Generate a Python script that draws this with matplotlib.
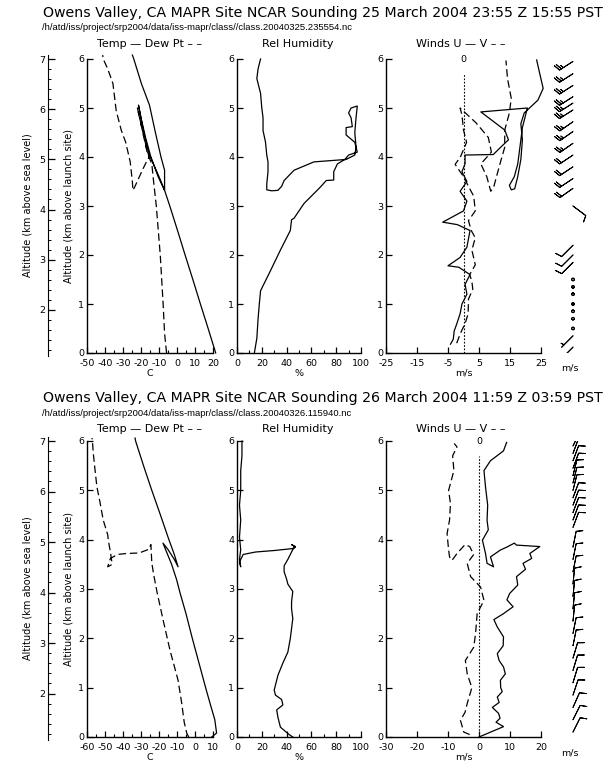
import numpy as np
import matplotlib
matplotlib.use("Agg")
import matplotlib.pyplot as plt

W, H = 612, 765
plt.rcParams["axes.unicode_minus"] = False

# ---- 25 March 2004 23:55 Z sounding ----
t1_alt = [0.0, 0.5, 1.0, 1.5, 2.0, 2.5, 3.0, 3.32, 3.6, 4.08, 4.5, 5.06, 4.8, 4.4, 4.0, 3.6, 3.32,
          3.73, 4.0, 4.5, 5.06, 5.5, 6.0, 6.08]
t1_val = [21.5, 17.3, 13.0, 8.8, 4.5, 0.3, -4.0, -6.9, -10.0, -15.8, -18.5, -21.4, -20.0, -17.5, -14.5,
          -10.5, -6.9, -6.9, -8.9, -12.0, -15.3, -19.8, -24.0, -24.8]
td1_alt = [0.0, 0.4, 1.0, 1.5, 2.0, 2.5, 3.0, 3.5, 3.86, 4.08, 4.5, 5.0, 4.6, 4.2, 4.0, 3.9, 3.75,
           3.55, 3.38, 3.32, 3.5, 3.9, 4.3, 4.55, 4.95, 5.5, 5.8, 6.0, 6.08]
td1_val = [-5.8, -6.9, -7.7, -8.5, -9.3, -10.4, -11.5, -13.0, -14.0, -16.5, -19.0, -22.0, -19.5, -17.0,
           -15.5, -17.0, -19.0, -21.5, -23.6, -24.5, -24.8, -26.0, -28.5, -31.0, -33.8, -35.6, -38.5,
           -41.0, -41.3]
rh1_alt = [0.0, 0.3, 0.7, 1.0, 1.27, 1.68, 2.1, 2.5, 2.72, 2.75, 3.05, 3.38, 3.52, 3.53, 3.7, 3.86,
           3.95, 4.04, 4.1, 4.3, 4.45, 4.6, 4.62, 4.8, 4.9, 5.0, 5.04, 4.8, 4.5, 4.2, 4.04, 3.95, 3.9,
           3.73, 3.52, 3.4, 3.32, 3.31, 3.33, 3.45, 3.7, 3.9, 4.04, 4.3, 4.54, 4.8, 5.0, 5.3, 5.6, 5.8,
           6.0]
rh1_val = [14, 16, 17, 18, 19, 27, 35, 43, 44, 46, 54, 67, 72, 78, 78, 81, 87, 90, 97, 95, 88, 88,
           93, 92, 90, 92, 97, 96, 95, 96, 95, 88, 62, 46, 38, 36, 33, 28, 24, 24, 25, 25, 24, 23, 21,
           21, 20, 19, 16, 17, 19]
u1_alt = [0.18, 0.28, 0.45, 0.59, 0.8, 1.0, 1.2, 1.4, 1.6, 1.75, 1.78, 1.95, 2.16, 2.5, 2.62, 2.67,
          2.9, 3.1, 3.3, 3.5, 3.7, 3.86, 4.04, 4.05, 4.2, 4.35, 4.55, 4.92, 5.0, 4.85, 4.6, 4.2, 3.86,
          3.6, 3.42, 3.33, 3.35, 3.6, 3.95, 4.35, 4.68, 4.9, 5.16, 5.4, 5.7, 5.98]
u1_val = [-4.2, -3.3, -3.0, -2.2, -1.1, -0.5, 1.1, 0.5, 2.1, -1.5, -5.0, -1.1, 1.1, 2.1, -2.0, -6.7,
          0.0, 1.1, -1.1, 1.1, -0.5, 0.5, 0.5, 9.6, 12.0, 14.5, 13.3, 5.6, 20.6, 20.0, 19.0, 18.2,
          17.5, 16.4, 14.8, 15.4, 16.5, 17.5, 18.5, 19.0, 18.5, 19.6, 24.0, 25.7, 24.6, 23.6]
v1_alt = [0.2, 0.4, 0.6, 0.8, 1.1, 1.3, 1.46, 1.6, 1.8, 2.1, 2.35, 2.5, 2.7, 2.9, 3.2, 3.4, 3.6,
          3.85, 4.0, 4.3, 4.55, 4.86, 5.0, 4.7, 4.4, 4.1, 3.86, 3.6, 3.3, 3.4, 3.8, 4.2, 4.55, 4.9,
          5.2, 5.6, 5.97]
v1_val = [-2.2, -1.0, 0.5, 1.5, 1.6, 3.0, 2.7, 2.0, 3.8, 2.7, 3.8, 2.5, 1.6, 3.8, 3.3, 1.6, 0.0,
          -2.7, -1.0, 1.0, 0.0, -0.5, -1.1, 4.0, 8.0, 9.0, 5.6, 7.5, 8.8, 9.8, 11.5, 13.3, 13.3, 14.8,
          15.4, 14.2, 13.7]
b1_alt = [5.95, 5.7, 5.46, 5.23, 5.1, 4.96, 4.72, 4.52, 4.28, 4.04, 3.8, 3.56, 3.36, 3.0, 2.2,
          2.0, 1.85, 1.5, 1.35, 1.2, 1.0, 0.85, 0.7, 0.5, 0.35, 0.12]
b1_u = [22, 22, 22, 22, 22, 22, 20, 20, 20, 18, 18, 18, 17, -8, 6, 6, 6, 0, 0, 0, 0, 0, 0, 0, 4, 4]
b1_v = [14, 14, 14, 14, 14, 14, 14, 14, 14, 12, 12, 12, 12, 6, 6, 6, 6, 0, 0, 0, 0, 0, 0, 0, 4, 4]

# ---- 26 March 2004 11:59 Z sounding ----
t2_alt = [0.0, 0.08, 0.35, 0.69, 1.0, 1.42, 2.0, 2.5, 2.92, 3.2, 3.5, 3.93, 3.8, 3.6, 3.45, 3.7,
          4.0, 4.5, 5.0, 5.5, 6.0, 6.06]
t2_val = [9.3, 12.0, 11.0, 8.3, 5.9, 2.8, -1.5, -5.0, -8.3, -10.3, -13.0, -17.8, -15.0, -11.5, -9.4,
          -11.5, -14.5, -19.2, -24.0, -28.6, -33.0, -33.3]
td2_alt = [0.0, 0.08, 0.3, 0.69, 1.15, 1.76, 2.37, 2.92, 3.3, 3.53, 3.9, 3.8, 3.73, 3.72, 3.7, 3.62,
           3.45, 3.5, 3.75, 3.95, 4.1, 4.4, 4.8, 5.07, 5.4, 5.75, 6.0, 6.06]
td2_val = [-3.5, -4.6, -6.0, -7.4, -9.4, -13.9, -17.7, -21.0, -23.0, -24.0, -24.5, -26.0, -31.0,
           -38.0, -43.0, -47.0, -48.5, -46.0, -47.0, -48.0, -48.5, -51.0, -53.0, -54.5, -55.5,
           -56.5, -57.0, -57.2]
rh2_alt = [0.0, 0.05, 0.2, 0.4, 0.55, 0.65, 0.76, 0.85, 0.95, 1.25, 1.5, 1.72, 2.0, 2.4, 2.6, 2.74,
           2.95, 3.1, 3.2, 3.35, 3.47, 3.6, 3.8, 3.86, 3.9, 3.85, 3.82, 3.78, 3.75, 3.7, 3.65, 3.55,
           3.45, 3.6, 3.8, 4.05, 4.4, 4.7, 5.0, 5.4, 5.7, 6.0]
rh2_val = [45, 42, 35, 33, 32, 37, 36, 31, 30, 33, 37, 41, 43, 45, 44, 44, 45, 41, 40, 38, 38, 41,
           45, 47, 44, 47, 45, 30, 15, 5, 4, 2, 3, 2, 3, 2, 3, 2, 3, 3, 4, 4]
u2_alt = [0.0, 0.21, 0.3, 0.38, 0.48, 0.6, 0.7, 0.81, 0.92, 1.0, 1.15, 1.28, 1.42, 1.55, 1.69, 1.85,
          2.03, 2.23, 2.38, 2.5, 2.64, 2.78, 2.91, 3.08, 3.25, 3.4, 3.52, 3.62, 3.72, 3.86, 3.89,
          3.93, 3.85, 3.79, 3.65, 3.45, 3.52, 3.72, 3.99, 4.2, 4.39, 4.7, 5.07, 5.4, 5.6, 5.8, 5.97]
u2_val = [0.0, 7.9, 5.5, 6.8, 6.3, 4.3, 6.5, 5.9, 7.5, 7.0, 6.9, 8.5, 7.9, 6.5, 5.9, 7.8, 7.9, 5.9,
          4.8, 7.9, 11.0, 9.0, 9.9, 12.5, 12.1, 15.0, 14.2, 17.0, 16.4, 19.6, 12.1, 11.4, 9.0, 6.9,
          3.7, 4.7, 2.6, 2.1, 1.1, 3.0, 2.6, 2.8, 2.1, 1.6, 3.7, 7.9, 8.9]
v2_alt = [0.05, 0.1, 0.34, 0.5, 0.68, 0.85, 1.0, 1.28, 1.55, 1.82, 2.1, 2.5, 2.77, 3.04, 3.25,
          3.52, 3.7, 3.86, 3.9, 3.72, 3.58, 3.65, 3.79, 4.12, 4.4, 4.73, 5.0, 5.4, 5.7, 5.88, 5.95]
v2_val = [-3.0, -4.9, -6.0, -4.5, -3.8, -3.0, -2.3, -3.8, -4.4, -1.7, -1.1, -0.6, 1.6, 0.5, -2.7,
          -3.8, -1.7, -3.0, -4.5, -7.1, -8.7, -9.5, -9.8, -10.3, -9.5, -9.2, -9.8, -8.1, -8.5, -7.1,
          -8.0]
b2_alt = [5.9, 5.75, 5.6, 5.45, 5.3, 5.15, 5.0, 4.85, 4.7, 4.55, 4.4, 4.25, 3.85, 3.6, 3.35, 3.1,
          2.85, 2.6, 2.35, 2.1, 1.85, 1.6, 1.35, 1.1, 0.85, 0.6, 0.35, 0.1]
b2_u = [-4, -3, -3, -3, -2, -2, -2, -3, -3, -3, -3, -3, -2, -2, -2, -1, -1, -1, -1, -2, -2, -3,
        -3, -3, -3, -4, -4, -4]
b2_v = [-8, -8, -8, -8, -8, -8, -8, -8, -8, -8, -8, -8, -10, -10, -10, -10, -10, -10, -10, -10,
        -10, -10, -10, -10, -9, -9, -8, -8]

titles = ["Owens Valley, CA MAPR Site NCAR Sounding 25 March 2004 23:55 Z 15:55 PST",
          "Owens Valley, CA MAPR Site NCAR Sounding 26 March 2004 11:59 Z 03:59 PST"]
paths = ["/h/atd/iss/project/srp2004/data/iss-mapr/class//class.20040325.235554.nc",
         "/h/atd/iss/project/srp2004/data/iss-mapr/class//class.20040326.115940.nc"]

FS = 6.8


def box(fig, x0, y0, x1, y1):
    """axes from pixel corners (top-left origin)"""
    return fig.add_axes([x0 / W, 1 - y1 / H, (x1 - x0) / W, (y1 - y0) / H])


def panel(ax, xlim, xmaj, xmin):
    ax.set_xlim(*xlim)
    ax.set_ylim(0, 6)
    for s in ["top", "right"]:
        ax.spines[s].set_visible(False)
    for s in ["left", "bottom"]:
        ax.spines[s].set_linewidth(1.0)
    ax.set_xticks(xmaj)
    ax.set_xticks(xmin, minor=True)
    ax.set_yticks(range(7))
    ax.tick_params(direction="in", length=4, width=0.9, labelsize=FS, pad=2)
    ax.tick_params(axis="x", pad=4)
    ax.tick_params(which="minor", direction="in", length=2, width=0.8)
    ax.patch.set_alpha(0)


fig = plt.figure(figsize=(W / 100, H / 100), dpi=100)
fig.patch.set_facecolor("white")

rows = [
    dict(dy=0, tlim=(-50, 20), tmaj=range(-50, 21, 10), tmin=range(-45, 20, 10),
         wlim=(-25, 25), wmaj=range(-25, 26, 10), wmin=[],
         t=(t1_alt, t1_val), td=(td1_alt, td1_val), rh=(rh1_alt, rh1_val),
         u=(u1_alt, u1_val), v=(v1_alt, v1_val), b=(b1_alt, b1_u, b1_v), top=59, bot=353),
    dict(dy=385, tlim=(-60, 10), tmaj=range(-60, 11, 10), tmin=range(-55, 10, 10),
         wlim=(-30, 20), wmaj=range(-30, 21, 10), wmin=[],
         t=(t2_alt, t2_val), td=(td2_alt, td2_val), rh=(rh2_alt, rh2_val),
         u=(u2_alt, u2_val), v=(v2_alt, v2_val), b=(b2_alt, b2_u, b2_v), top=441, bot=737),
]

for i, r in enumerate(rows):
    dy = r["dy"]
    top, bot = r["top"], r["bot"]

    fig.text(323 / W, 1 - (13 + dy) / H, titles[i], ha="center", va="center", fontsize=10.2)
    fig.text(42 / W, 1 - (28 + dy) / H, paths[i], ha="left", va="center", fontsize=6.8,
             family="Liberation Sans")
    fig.text(150 / W, 1 - (44 + dy) / H, "Temp \u2014 Dew Pt \u2013 \u2013", ha="center",
             va="center", fontsize=8)
    fig.text(298 / W, 1 - (44 + dy) / H, "Rel Humidity", ha="center", va="center", fontsize=8)
    fig.text(461 / W, 1 - (44 + dy) / H, "Winds U \u2014 V \u2013 \u2013", ha="center",
             va="center", fontsize=8)

    # altitude above sea level
    sea = box(fig, 48, top - 4, 60, bot + 3)
    sea.set_ylim(1.08, 7.08)
    sea.set_xlim(0, 1)
    for s in ["top", "right", "bottom"]:
        sea.spines[s].set_visible(False)
    sea.set_xticks([])
    sea.set_yticks(range(2, 8))
    sea.set_yticks(np.arange(1.2, 7.05, 0.2), minor=True)
    sea.tick_params(direction="in", length=5, width=0.9, labelsize=FS, pad=2)
    sea.tick_params(which="minor", direction="in", length=2.5, width=0.7)
    sea.set_ylabel("Altitude (km above sea level)", fontsize=7, labelpad=5)
    sea.patch.set_alpha(0)

    # temperature / dew point
    ax = box(fig, 87, top, 213, bot)
    ax.plot(*r["t"][::-1], color="black", lw=0.9, clip_on=False)
    ax.plot(*r["td"][::-1], color="black", lw=0.9, dashes=(6, 3), clip_on=False)
    panel(ax, r["tlim"], r["tmaj"], r["tmin"])
    ax.set_ylabel("Altitude (km above launch site)", fontsize=7, labelpad=3)
    ax.set_xlabel("C", fontsize=FS, labelpad=1)

    # relative humidity
    ax = box(fig, 237, top, 361, bot)
    ax.plot(*r["rh"][::-1], color="black", lw=0.9, clip_on=False)
    panel(ax, (0, 100), range(0, 101, 20), range(10, 100, 20))
    ax.set_xlabel("%", fontsize=FS, labelpad=1)

    # winds
    ax = box(fig, 386, top, 541, bot)
    ax.plot([0, 0], [0, 5.7], color="black", lw=0.8, ls=(0, (1.5, 1.5)))
    ax.text(0, 6.0, "0", ha="center", va="center", fontsize=FS)
    ax.plot(*r["u"][::-1], color="black", lw=0.9, clip_on=False)
    ax.plot(*r["v"][::-1], color="black", lw=0.9, dashes=(6, 3), clip_on=False)
    panel(ax, r["wlim"], r["wmaj"], r["wmin"])
    ax.set_xlabel("m/s", fontsize=FS, labelpad=1)

    # wind barbs
    bx = box(fig, 545, top, 601, bot)
    balt, bu, bv = r["b"]
    bx.barbs(np.zeros(len(balt)), balt, bu, bv, length=4.8, linewidth=0.7,
             sizes=dict(emptybarb=0.08, spacing=0.14, height=0.4))
    bx.set_xlim(-1, 1)
    bx.set_ylim(0, 6)
    bx.axis("off")
    fig.text(570 / W, 1 - (368 + dy) / H, "m/s", ha="center", va="center", fontsize=FS)

fig.savefig("out.png", dpi=100, facecolor="white")
